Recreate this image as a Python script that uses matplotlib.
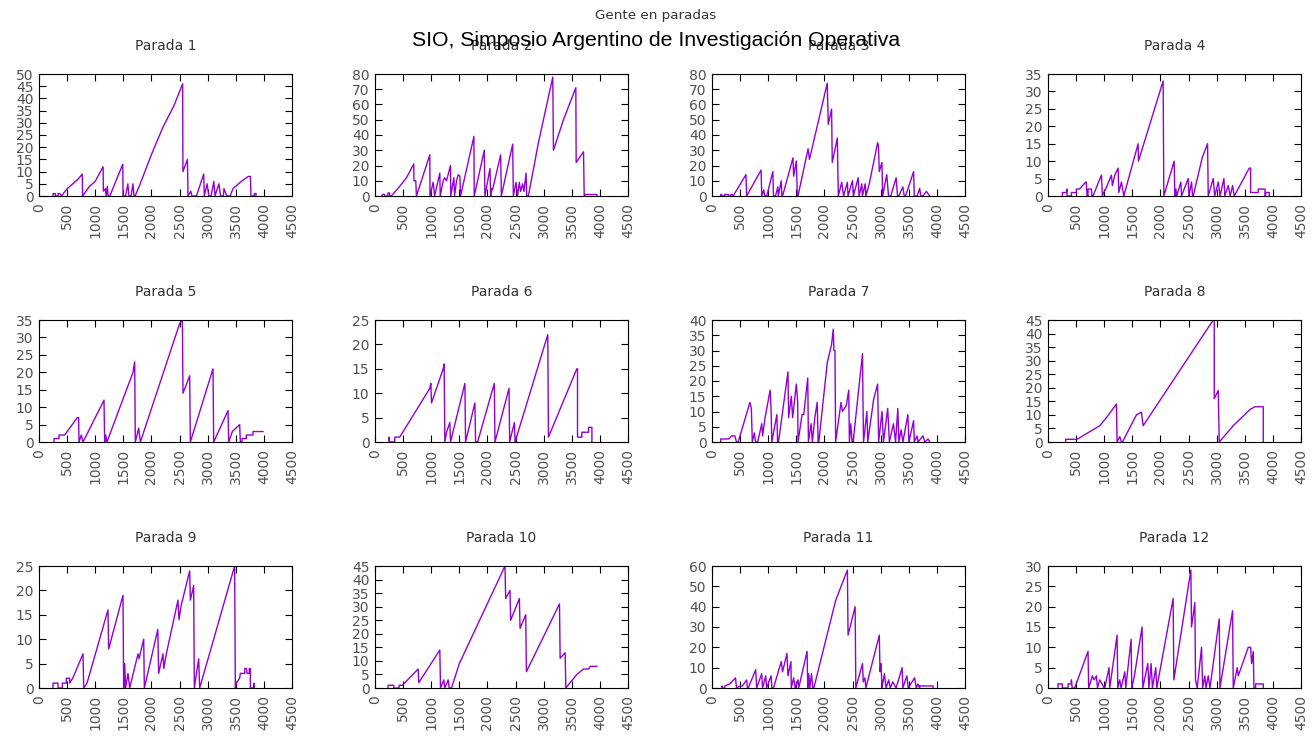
import matplotlib
matplotlib.use("Agg")
import matplotlib.pyplot as plt

# (tiempo, gente esperando), uno por parada
parada1 = [(250,0),(250,1),(290,1),(290,0),(340,0),(340,1),(370,1),(400,0),(500,3),(700,7),(770,9),(775,0),
           (900,4),(1000,6),(1140,12),(1145,2),(1180,3),(1195,0),(1215,4),(1230,0),(1260,0),(1400,8),(1490,13),
           (1495,0),(1540,0),(1580,5),(1600,0),(1640,0),(1670,5),(1690,0),(1710,0),(1800,5),(2000,17),(2200,28),
           (2400,37),(2555,46),(2560,10),(2640,15),(2650,0),(2700,2),(2720,0),(2800,0),(2930,9),(2940,0),(2990,5),
           (3020,0),(3060,0),(3110,6),(3130,0),(3200,5),(3230,0),(3280,0),(3290,3),(3340,0),(3400,0),(3450,3),
           (3600,6),(3720,8),(3760,8),(3770,0),(3830,0),(3830,1),(3860,1),(3860,0)]
parada2 = [(130,0),(130,1),(170,1),(170,0),(230,0),(230,2),(260,2),(260,0),(290,0),(410,5),(560,12),(690,21),
           (692,10),(725,10),(737,0),(975,27),(978,0),(1034,9),(1060,0),(1153,15),(1160,0),(1213,10),(1240,12),
           (1272,10),(1343,20),(1348,0),(1403,12),(1415,0),(1450,10),(1480,14),(1510,13),(1522,0),(1759,39),
           (1765,0),(1944,30),(1955,0),(2045,18),(2057,0),(2075,5),(2090,4),(2235,27),(2247,0),(2449,34),(2461,0),
           (2508,9),(2535,0),(2568,9),(2590,3),(2627,8),(2650,3),(2687,15),(2699,0),(2728,0),(2907,35),(3162,78),
           (3174,30),(3352,50),(3572,71),(3578,22),(3709,29),(3721,0),(3739,0),(3739,1),(3947,1),(3947,0)]
parada3 = [(155,0),(155,1),(175,1),(175,0),(227,0),(227,1),(290,1),(290,0),(335,0),(335,1),(360,1),(376,0),
           (604,14),(616,0),(873,17),(885,0),(920,4),(940,0),(974,0),(1082,16),(1094,0),(1130,0),(1171,6),
           (1180,0),(1231,10),(1243,0),(1255,0),(1440,25),(1452,13),(1500,23),(1518,0),(1530,0),(1709,31),
           (1733,24),(2050,74),(2068,47),(2127,57),(2139,22),(2229,38),(2247,0),(2307,9),(2340,0),(2408,9),
           (2420,0),(2498,10),(2515,0),(2600,12),(2615,0),(2665,8),(2675,0),(2725,8),(2737,0),(2797,8),(2946,35),
           (2960,33),(2976,16),(3022,22),(3036,0),(3108,14),(3140,0),(3180,0),(3275,12),(3300,0),(3323,0),
           (3394,6),(3420,0),(3442,0),(3586,16),(3598,0),(3650,0),(3693,5),(3715,0),(3750,0),(3813,3),(3872,0)]
parada4 = [(255,0),(255,1),(326,1),(338,2),(338,0),(416,0),(416,1),(505,1),(505,2),(560,2),(671,4),(680,4),
           (695,0),(712,0),(712,2),(772,2),(780,0),(801,0),(950,6),(968,0),(990,1),(1027,2),(1128,6),(1145,3),
           (1187,6),(1247,8),(1259,1),(1306,4),(1348,0),(1603,15),(1609,10),(2048,33),(2060,0),(2244,10),
           (2256,0),(2275,2),(2290,0),(2363,4),(2375,0),(2494,5),(2506,0),(2553,4),(2571,0),(2583,0),(2743,11),
           (2838,15),(2850,0),(2939,5),(2965,0),(3028,4),(3060,0),(3129,5),(3145,0),(3206,3),(3240,0),(3283,3),
           (3313,0),(3580,8),(3604,8),(3604,1),(3740,1),(3740,2),(3859,2),(3859,0),(3871,0),(3871,1),(3936,1),
           (3936,0)]
parada5 = [(267,0),(267,1),(356,1),(356,2),(456,2),(682,7),(705,7),(711,0),(753,2),(783,0),(1156,12),(1168,0),
           (1186,2),(1209,0),(1672,20),(1702,23),(1713,0),(1773,4),(1803,0),(2502,34),(2550,35),(2561,14),
           (2680,19),(2692,0),(3095,21),(3107,0),(3362,9),(3374,0),(3439,3),(3569,5),(3581,0),(3611,0),(3611,1),
           (3688,1),(3688,2),(3806,2),(3806,3),(3984,3)]
parada6 = [(250,0),(250,1),(260,0),(351,0),(351,1),(440,1),(975,11),(993,12),(1005,8),(1213,15),(1230,16),
           (1242,0),(1272,2),(1331,4),(1343,0),(1599,12),(1611,0),(1777,8),(1789,0),(1825,0),(2122,12),(2134,0),
           (2384,11),(2395,0),(2479,4),(2491,0),(3073,22),(3085,1),(3590,15),(3602,15),(3602,1),(3679,1),
           (3679,2),(3798,2),(3798,3),(3858,3),(3858,0)]
parada7 = [(155,0),(155,1),(300,1),(347,2),(406,2),(436,0),(466,0),(675,13),(700,11),(717,0),(753,3),(775,0),
           (813,0),(885,6),(900,2),(944,8),(1034,17),(1052,10),(1064,0),(1154,9),(1166,0),(1183,0),(1351,23),
           (1363,8),(1411,15),(1434,8),(1500,19),(1524,13),(1530,0),(1602,9),(1632,9),(1703,21),(1715,0),
           (1763,6),(1785,0),(1829,8),(1871,13),(1888,0),(1900,0),(2050,26),(2127,32),(2157,37),(2169,30),
           (2187,30),(2199,0),(2295,13),(2320,10),(2390,12),(2432,17),(2444,0),(2468,6),(2492,0),(2510,0),
           (2677,29),(2685,14),(2695,0),(2755,10),(2770,0),(2875,14),(2946,19),(2964,0),(3024,10),(3050,0),
           (3125,11),(3155,0),(3227,6),(3265,0),(3305,11),(3323,0),(3364,4),(3395,0),(3484,9),(3502,0),(3586,7),
           (3598,0),(3646,2),(3665,0),(3753,2),(3785,0),(3843,1),(3872,0)]
parada8 = [(315,0),(315,1),(517,1),(920,6),(1040,9),(1217,14),(1229,0),(1276,2),(1306,0),(1324,0),(1573,10),
           (1662,11),(1692,6),(2939,45),(2957,45),(2957,16),(3028,19),(3046,0),(3295,6),(3592,12),(3681,13),
           (3829,13),(3829,0)]
parada9 = [(249,0),(249,1),(338,1),(338,0),(415,0),(415,1),(486,1),(486,2),(545,2),(545,1),(600,2),(783,7),
           (795,0),(854,1),(1227,16),(1239,8),(1494,19),(1506,0),(1524,5),(1540,0),(1583,3),(1613,0),(1761,7),
           (1780,6),(1862,10),(1874,0),(2113,12),(2128,3),(2205,7),(2220,4),(2265,7),(2472,18),(2490,14),
           (2530,17),(2680,24),(2692,18),(2751,21),(2763,0),(2840,6),(2858,0),(3480,25),(3492,0),(3510,1),
           (3569,2),(3581,3),(3660,3),(3660,4),(3690,4),(3700,3),(3740,3),(3740,4),(3759,4),(3759,0),(3824,0),
           (3824,1),(3830,0)]
parada10 = [(232,0),(232,1),(333,1),(333,0),(428,0),(428,1),(487,1),(767,7),(779,2),(1153,14),(1165,0),
            (1224,3),(1240,0),(1302,3),(1320,0),(1361,0),(1500,9),(2312,45),(2324,33),(2401,36),(2413,25),
            (2568,33),(2580,22),(2681,27),(2693,6),(3281,31),(3293,11),(3382,13),(3394,0),(3590,5),(3709,7),
            (3800,7),(3828,8),(3947,8)]
parada11 = [(179,0),(179,1),(190,0),(227,0),(227,1),(317,2),(418,5),(436,0),(500,1),(540,1),(616,4),(630,0),
            (645,0),(777,9),(795,0),(884,7),(900,0),(956,6),(970,0),(1052,6),(1064,0),(1094,0),(1231,13),
            (1255,8),(1333,17),(1351,6),(1404,13),(1410,0),(1452,5),(1480,0),(1530,4),(1542,0),(1691,18),
            (1703,0),(1721,7),(1740,0),(1769,7),(1793,0),(1811,0),(2199,43),(2408,58),(2420,26),(2546,40),
            (2558,0),(2677,12),(2690,3),(2719,5),(2737,0),(2976,26),(2988,8),(3006,12),(3024,0),(3066,7),
            (3096,0),(3143,4),(3170,0),(3215,3),(3275,0),(3382,10),(3394,0),(3466,6),(3490,0),(3604,5),(3633,0),
            (3663,2),(3693,0),(3693,1),(3932,1),(3932,0)]
parada12 = [(178,0),(178,1),(255,1),(255,0),(356,0),(356,1),(416,1),(416,2),(430,0),(475,0),(712,9),(724,0),
            (790,3),(820,2),(861,3),(880,0),(920,2),(962,1),(997,0),(1009,0),(1086,5),(1098,0),(1229,13),
            (1241,0),(1276,2),(1300,0),(1366,4),(1383,0),(1478,12),(1490,0),(1538,3),(1627,11),(1674,15),
            (1686,0),(1775,6),(1795,0),(1834,6),(1858,0),(1917,5),(1935,0),(2226,22),(2238,2),(2541,29),
            (2553,15),(2612,21),(2624,2),(2654,0),(2731,10),(2750,0),(2790,3),(2810,0),(2850,3),(2880,0),
            (3046,17),(3058,0),(3283,19),(3295,0),(3366,5),(3384,3),(3562,10),(3604,10),(3622,6),(3651,9),
            (3663,0),(3693,0),(3693,1),(3829,1),(3829,0)]

paradas = [parada1, parada2, parada3, parada4, parada5, parada6,
           parada7, parada8, parada9, parada10, parada11, parada12]
titulos = ["Parada %d" % (i + 1) for i in range(12)]
y_max = [50, 80, 80, 35, 35, 25, 40, 45, 25, 45, 60, 30]
y_paso = [5, 10, 10, 5, 5, 5, 5, 5, 5, 5, 10, 5]
x_ticks = list(range(0, 4501, 500))

plt.rcParams['font.family'] = ['DejaVu Sans']

W, H = 1314, 738
fig = plt.figure(figsize=(W / 100, H / 100), dpi=100)

col_left = [39, 375, 712, 1048]
row_top = [74, 320, 566]
aw, ah = 253, 122

gris = '#505050'
for i, datos in enumerate(paradas):
    r, c = divmod(i, 4)
    ax = fig.add_axes([col_left[c] / W, 1 - (row_top[r] + ah) / H, aw / W, ah / H])
    t = [p[0] for p in datos]
    n = [p[1] for p in datos]
    ax.plot(t, n, color='#9400d3', lw=1.0)
    ax.set_xlim(0, 4500)
    ax.set_ylim(0, y_max[i])
    ax.set_xticks(x_ticks)
    ax.set_yticks(list(range(0, y_max[i] + 1, y_paso[i])))
    ax.tick_params(direction='in', top=True, right=True, length=5, width=0.8,
                   labelsize=10, labelcolor=gris, color='black')
    ax.tick_params(axis='x', labelrotation=90, pad=5)
    ax.tick_params(axis='y', pad=4)
    for s in ax.spines.values():
        s.set_color('black')
        s.set_linewidth(0.8)
    ax.set_title(titulos[i], fontsize=10, color='#333333', pad=17.5)

fig.text(656 / W, 1 - 16 / H, "Gente en paradas", ha='center', va='center', fontsize=9.7, color='#333333')
fig.text(656 / W, 1 - 40 / H, "SIO, Simposio Argentino de Investigación Operativa",
         ha='center', va='center', fontsize=15.3, color='black', family='Liberation Sans')

fig.savefig("out.png", dpi=100)
